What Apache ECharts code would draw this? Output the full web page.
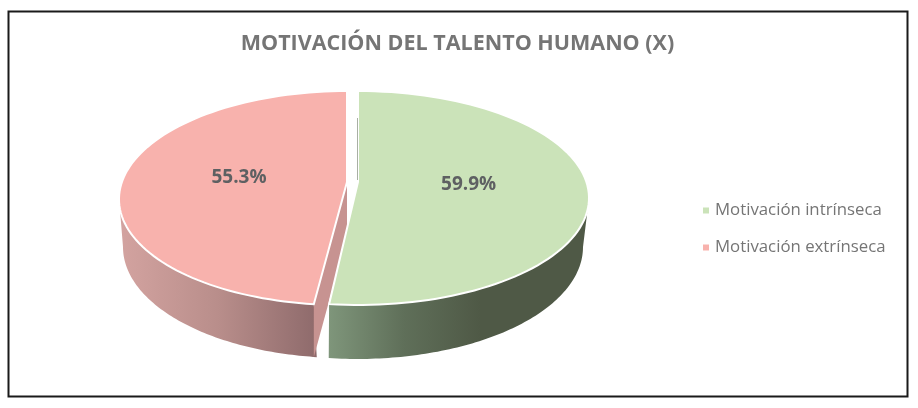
<!DOCTYPE html>
<html><head><meta charset="utf-8">
<style>html,body{margin:0;padding:0;background:#fff}#c{width:918px;height:408px}</style>
<script src="https://cdn.jsdelivr.net/npm/echarts@6/dist/echarts.min.js"></script>
</head><body><div id="c"></div>
<script>
var titleText = 'MOTIVACIÓN DEL TALENTO HUMANO (X)';
var categories = ['Motivación intrínseca', 'Motivación extrínseca'];
var values = [59.9, 55.3];
var topColors = ['#cbe3b9', '#f8b2ad'];

var total = values.reduce(function (a, b) { return a + b; }, 0);
var geom = [
  { cx: 358, apexX: 358, rx: 231, bcx: 357, brx: 226, bry: 112, skew: 0,
    sideFrom: 328, sideTo: 480,
    side: ['#7f967b', '#5f6f59', '#4f5946'], inner: '#a9b0a4' },
  { cx: 344.5, apexX: 347, rx: 225.5, bcx: 344.5, brx: 221.5, bry: 111, skew: 2.5,
    sideFrom: 120, sideTo: 315,
    side: ['#d3a3a0', '#b98e8b', '#8f6b6c'], inner: '#c79391' }
];
var cy = 198, ry = 107, apexY = 182, bcy = 247, depth = 53;

function arc(g, a0, a1, bottom) {
  var pts = [], n = 90;
  for (var i = 0; i <= n; i++) {
    var a = (a0 + (a1 - a0) * i / n) * Math.PI / 180;
    if (bottom) pts.push([g.bcx + g.brx * Math.sin(a), bcy - g.bry * Math.cos(a)]);
    else pts.push([g.cx + g.rx * Math.sin(a) + g.skew * Math.cos(a), cy - ry * Math.cos(a)]);
  }
  return pts;
}

function sliceRender(index) {
  return function (params, api) {
    var v = api.value(0), before = 0;
    for (var i = 0; i < index; i++) before += values[i];
    var a0 = before / total * 360, a1 = (before + v) / total * 360;
    var g = geom[index];
    var apex = [g.apexX, apexY];
    var vis0 = Math.max(a0, 90), vis1 = Math.min(a1, 270);
    var top = arc(g, vis0, vis1, false);
    var bot = arc(g, vis0, vis1, true).reverse();
    var grad = new echarts.graphic.LinearGradient(g.sideFrom, 0, g.sideTo, 0, [
      { offset: 0, color: g.side[0] }, { offset: 0.5, color: g.side[1] }, { offset: 1, color: g.side[2] }
    ], true);
    var children = [];
    children.push({ type: 'polygon', shape: { points: top.concat(bot) }, style: { fill: grad } });
    var e = arc(g, a0, a0, false)[0];
    if (index === 1) {
      children.push({ type: 'polygon', shape: { points: [apex, e, [e[0], e[1] + depth], [apex[0], apex[1] + depth]] }, style: { fill: g.inner } });
    }
    children.push({
      type: 'polygon',
      shape: { points: [apex].concat(arc(g, a0, a1, false)) },
      style: { fill: topColors[index], stroke: '#fff', lineWidth: 2 }
    });
    if (index === 0) {
      children.push({ type: 'line', shape: { x1: apex[0] - 0.5, y1: apex[1] - 2, x2: apex[0] - 0.5, y2: 118 }, style: { stroke: g.inner, lineWidth: 1 } });
    }
    var mid = (a0 + a1) / 2 * Math.PI / 180;
    children.push({
      type: 'text',
      x: g.apexX + g.rx * 0.48 * Math.sin(mid),
      y: apexY - ry * 0.48 * Math.cos(mid) - 1,
      style: {
        text: v.toFixed(1) + '%', align: 'center', verticalAlign: 'middle',
        fill: '#5e6062', font: 'bold 19px "Open Sans"'
      }
    });
    return { type: 'group', children: children };
  };
}

var chart = echarts.init(document.getElementById('c'), null, { renderer: 'canvas' });
chart.setOption({
  animation: false,
  backgroundColor: '#fff',
  title: {
    text: titleText, left: 452.5, top: 28, textAlign: 'center',
    textStyle: { color: '#757575', fontFamily: 'Open Sans', fontWeight: 'bold', fontSize: 21.5 }
  },
  legend: {
    orient: 'vertical', left: 698, top: 197, icon: 'rect',
    itemWidth: 6, itemHeight: 6, itemGap: 20,
    data: categories,
    textStyle: { color: '#757575', fontFamily: 'Open Sans', fontSize: 16.8, padding: [0, 0, 0, 1] }
  },
  graphic: [{
    type: 'rect', silent: true, z: -1,
    shape: { x: 8.5, y: 11.5, width: 899, height: 385 },
    style: { fill: 'none', stroke: '#1a1a1a', lineWidth: 2 }
  }],
  series: categories.map(function (name, i) {
    return {
      type: 'custom', name: name, coordinateSystem: 'none', silent: true,
      z: categories.length - i + 1,
      itemStyle: { color: topColors[i] },
      renderItem: sliceRender(i),
      data: [[values[i]]]
    };
  })
});
</script></body></html>
